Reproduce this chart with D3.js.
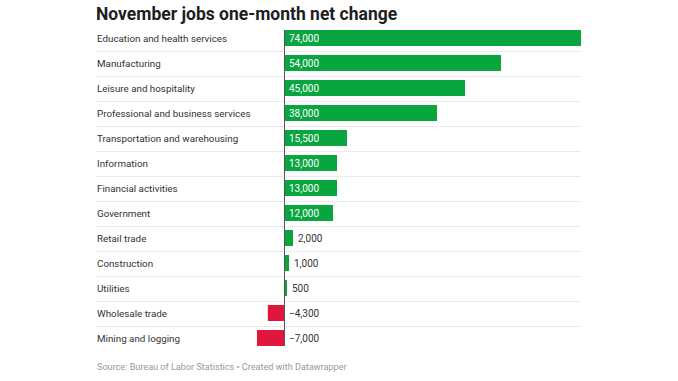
<!DOCTYPE html>
<html><head><meta charset="utf-8">
<script src="https://cdn.jsdelivr.net/npm/d3@7"></script>
<style>body{margin:0;background:#fff;font-family:Roboto,sans-serif}</style>
</head><body><svg id="c" width="678" height="381"></svg>
<script>
const categories = ["Education and health services","Manufacturing","Leisure and hospitality","Professional and business services","Transportation and warehousing","Information","Financial activities","Government","Retail trade","Construction","Utilities","Wholesale trade","Mining and logging"];
const values = [74000,54000,45000,38000,15500,13000,13000,12000,2000,1000,500,-4300,-7000];
const labels = ["74,000","54,000","45,000","38,000","15,500","13,000","13,000","12,000","2,000","1,000","500","\u22124,300","\u22127,000"];

const svg = d3.select("#c");
const x = d3.scaleLinear().domain([0,74000]).range([285,581]);
const y = d3.scaleBand().domain(categories).range([25.5,350.5]).paddingInner(0.36).paddingOuter(0.18);

svg.append("text").attr("x",96).attr("y",20).attr("font-size",17.5).attr("font-weight",700)
  .attr("fill","#1d1d1d").text("November jobs one-month net change");

const step = y.step();
svg.selectAll("line.sep").data(categories.slice(1)).join("line")
  .attr("x1",96).attr("x2",581)
  .attr("y1",d=>Math.round(y(d)-step*0.18)+0.5).attr("y2",d=>Math.round(y(d)-step*0.18)+0.5)
  .attr("stroke","#d9d9d9").attr("stroke-dasharray","1,1");

svg.selectAll("text.cat").data(categories).join("text")
  .attr("x",97).attr("y",d=>y(d)+y.bandwidth()/2+4).attr("font-size",9.8).attr("fill","#333").text(d=>d);

svg.selectAll("rect.bar").data(values).join("rect")
  .attr("x",d=>x(Math.min(0,d))).attr("width",d=>Math.abs(x(d)-x(0)))
  .attr("y",(d,i)=>y(categories[i])).attr("height",y.bandwidth())
  .attr("fill",d=>d>=0?"#09a63f":"#e0163d");

svg.append("line").attr("x1",284.5).attr("x2",284.5).attr("y1",y(categories[0])).attr("y2",y(categories[12])+y.bandwidth())
  .attr("stroke","#555").attr("stroke-width",1);

svg.selectAll("text.val").data(values).join("text")
  .attr("x",(d,i)=> d>=10000 ? x(0)+4 : (d>0 ? x(d)+5 : x(0)+4))
  .attr("y",(d,i)=>y(categories[i])+y.bandwidth()/2+4)
  .attr("font-size",10).attr("fill",d=>d>=10000?"#fff":"#333")
  .text((d,i)=>labels[i]);

svg.append("text").attr("x",97).attr("y",370).attr("font-size",9.1).attr("fill","#999")
  .text("Source: Bureau of Labor Statistics \u2022 Created with Datawrapper");
</script></body></html>
